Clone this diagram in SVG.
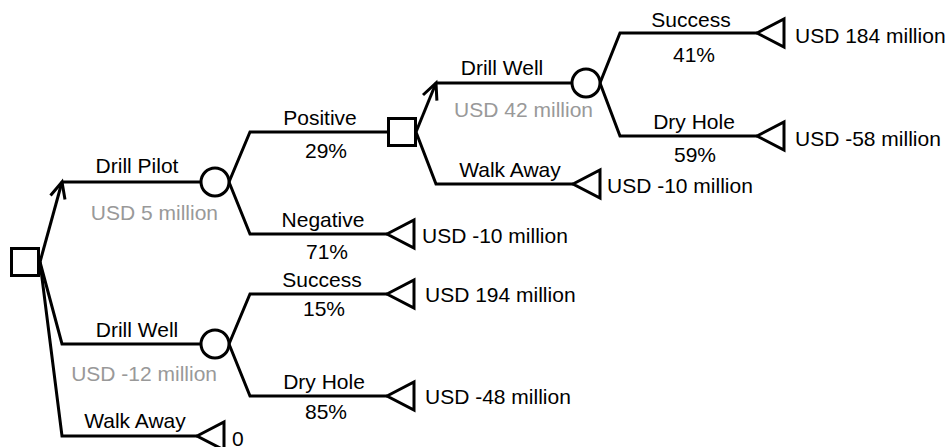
<svg xmlns="http://www.w3.org/2000/svg" width="949" height="447" viewBox="0 0 949 447">
<style>
.ln{fill:none;stroke:#000;stroke-width:3}
.nd{fill:#fff;stroke:#000;stroke-width:3}
.t{font-family:"Liberation Sans",Arial,sans-serif;font-size:21px;fill:#000}
.g{fill:#999}
.m{text-anchor:middle}
.e{text-anchor:end}
</style>
<defs>
<marker id="arr" markerUnits="userSpaceOnUse" orient="auto" refX="0" refY="0" markerWidth="24" markerHeight="24" viewBox="-20 -12 24 24" overflow="visible">
<path d="M-16,-7.5 L0,0 L-16,7.5" fill="none" stroke="#000" stroke-width="3"/>
</marker>
</defs>
<rect width="949" height="447" fill="#fff"/>
<g id="connectors">
<path class="ln" d="M40,262 L62,182" marker-end="url(#arr)"/>
<path class="ln" d="M62,182 L201,182"/>
<path class="ln" d="M40,262 L62,344 L201,344"/>
<path class="ln" d="M40,262 L62,436 L197,436"/>
<path class="ln" d="M229,182 L250,132 L388,132"/>
<path class="ln" d="M229,182 L250,234 L387,234"/>
<path class="ln" d="M416,132 L436,83" marker-end="url(#arr)"/>
<path class="ln" d="M436,83 L572,83"/>
<path class="ln" d="M416,132 L436,184 L573,184"/>
<path class="ln" d="M600,83 L620,33 L757,33"/>
<path class="ln" d="M600,83 L620,136 L757,136"/>
<path class="ln" d="M229,344 L250,294 L387,294"/>
<path class="ln" d="M229,344 L250,396 L387,396"/>
</g>
<g id="root"><rect class="nd" x="11.5" y="248.5" width="27" height="27"/></g>
<g id="pilot"><circle class="nd" cx="215" cy="182" r="14"/>
<text class="t m" x="137" y="173">Drill Pilot</text>
<text class="t g e" x="218" y="220">USD 5 million</text></g>
<g id="well"><circle class="nd" cx="215" cy="344" r="14"/>
<text class="t m" x="137" y="337">Drill Well</text>
<text class="t g e" x="217" y="381">USD -12 million</text></g>
<g id="walk"><path class="nd" d="M197,436 L224,422 L224,450 Z"/>
<text class="t m" x="135" y="428">Walk Away</text>
<text class="t" x="232" y="446">0</text></g>
<g id="pilotDecision"><rect class="nd" x="388.5" y="118.5" width="27" height="27"/>
<text class="t m" x="320" y="125">Positive</text>
<text class="t m" x="326" y="158">29%</text></g>
<g id="negative"><path class="nd" d="M387,234 L414,220 L414,248 Z"/>
<text class="t m" x="323" y="227">Negative</text>
<text class="t m" x="327" y="259">71%</text>
<text class="t" x="422" y="243">USD -10 million</text></g>
<g id="well2"><circle class="nd" cx="586" cy="83" r="14"/>
<text class="t m" x="502" y="75">Drill Well</text>
<text class="t g e" x="593" y="117">USD 42 million</text></g>
<g id="walk2"><path class="nd" d="M573,184 L600,170 L600,198 Z"/>
<text class="t m" x="510" y="177">Walk Away</text>
<text class="t" x="607" y="193">USD -10 million</text></g>
<g id="success2"><path class="nd" d="M757,33 L784,19 L784,47 Z"/>
<text class="t m" x="691" y="27">Success</text>
<text class="t m" x="694" y="62">41%</text>
<text class="t" x="795" y="43">USD 184 million</text></g>
<g id="dry2"><path class="nd" d="M757,136 L784,122 L784,150 Z"/>
<text class="t m" x="694" y="129">Dry Hole</text>
<text class="t m" x="695" y="162">59%</text>
<text class="t" x="795" y="146">USD -58 million</text></g>
<g id="success1"><path class="nd" d="M387,294 L414,280 L414,308 Z"/>
<text class="t m" x="322" y="287">Success</text>
<text class="t m" x="324" y="316">15%</text>
<text class="t" x="425" y="302">USD 194 million</text></g>
<g id="dry1"><path class="nd" d="M387,396 L414,382 L414,410 Z"/>
<text class="t m" x="324" y="389">Dry Hole</text>
<text class="t m" x="326" y="419">85%</text>
<text class="t" x="425" y="404">USD -48 million</text></g>
</svg>
